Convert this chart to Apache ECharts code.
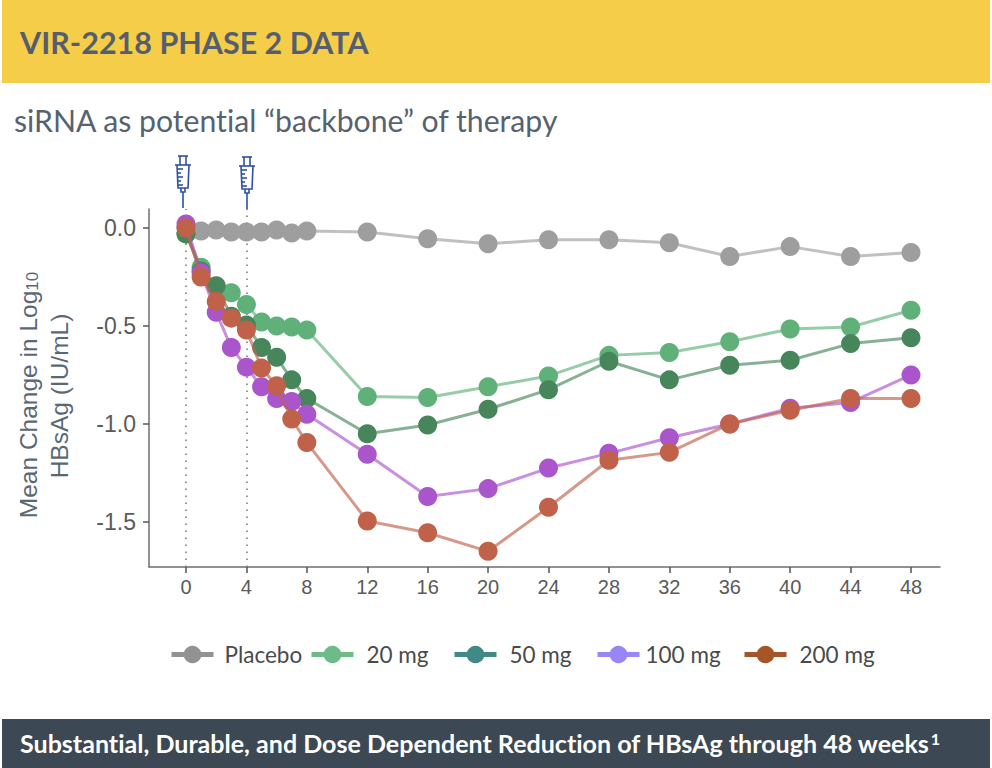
<!DOCTYPE html>
<html><head><meta charset="utf-8">
<style>html,body{margin:0;padding:0;background:#fff}#c{width:992px;height:768px}#c text{font-variant-ligatures:none}</style>
<script src="https://cdn.jsdelivr.net/npm/echarts@6/dist/echarts.min.js"></script>
</head><body><div id="c"></div>
<script>
const weeks=[0,1,2,3,4,5,6,7,8,12,16,20,24,28,32,36,40,44,48];
const xTicks=[0,4,8,12,16,20,24,28,32,36,40,44,48];
const yTicks=[0,-0.5,-1,-1.5];
const placebo=[0,-.015,-.01,-.02,-.02,-.02,-.01,-.025,-.015,-.02,-.055,-.08,-.06,-.06,-.075,-.145,-.095,-.145,-.125];
const mg20=[-.03,-.2,-.3,-.33,-.39,-.48,-.5,-.505,-.52,-.86,-.865,-.81,-.755,-.65,-.635,-.58,-.515,-.505,-.42];
const mg50=[-.03,-.22,-.295,-.45,-.495,-.61,-.66,-.775,-.87,-1.05,-1.005,-.925,-.825,-.68,-.775,-.7,-.675,-.59,-.56];
const mg100=[.02,-.23,-.43,-.61,-.71,-.81,-.87,-.885,-.95,-1.155,-1.37,-1.33,-1.225,-1.15,-1.07,-1.0,-.92,-.89,-.75];
const mg200=[0,-.25,-.375,-.46,-.52,-.715,-.805,-.975,-1.095,-1.495,-1.555,-1.65,-1.425,-1.185,-1.145,-1.0,-.93,-.87,-.87];
const names=['Placebo','20 mg','50 mg','100 mg','200 mg'];
const colors=['#9e9e9e','#5fb179','#47865b','#aa55cc','#c0624a'];
const legendColors=['#929292','#6dbb87','#3f8a87','#9a85f5','#a55526'];
const values=[placebo,mg20,mg50,mg100,mg200];
const legendLeft=[169,309,452,595,742];
const legendPad=[6,8,8,1,8];
const syringeParts=[
 [[-5,-38],[5,-38]],[[-3,-38],[-3,-29]],[[3,-38],[3,-29]],[[-8,-29],[8,-29]],
 [[-6,-29],[-5,-6],[5,-6],[6,-29]],
 [[-6,-25],[0,-25]],[[-6,-21],[-2,-21]],[[-6,-17],[0,-17]],[[-6,-13],[-2,-13]],[[-5,-9],[0,-9]],
 [[-2,-6],[-2,-2],[2,-2],[2,-6]],[[0,-2],[0,14]]
];
const chart=echarts.init(document.getElementById('c'),null,{renderer:'svg'});
const syringe=(x,y)=>({type:'group',x:x,y:y,children:syringeParts.map(p=>({type:'polyline',shape:{points:p},style:{fill:'none',stroke:'#2f50a6',lineWidth:1.6}}))});
chart.setOption({
 animation:false,
 backgroundColor:'#fff',
 title:[
  {text:'VIR-2218 PHASE 2 DATA',left:20,top:26,padding:0,textStyle:{fontFamily:'Lato',fontSize:30.5,fontWeight:'bold',color:'#555e6e'}},
  {text:'siRNA as potential “backbone” of therapy',left:14,top:105,padding:0,textStyle:{fontFamily:'Lato',fontSize:30.2,fontWeight:'normal',color:'#57626f'}}
 ],
 grid:{left:149,right:52,top:209,bottom:201,containLabel:false},
 xAxis:{type:'value',min:-2.45,max:49.92,
  axisLine:{onZero:false,lineStyle:{color:'#6e6e6e',width:1.5}},
  axisTick:{show:true,length:6,customValues:xTicks,lineStyle:{color:'#555',width:1.5}},
  axisLabel:{customValues:xTicks,fontFamily:'Liberation Sans',fontSize:20,color:'#5a5a5a',margin:10},
  splitLine:{show:false}},
 yAxis:{type:'value',min:-1.73,max:0.097,
  axisLine:{show:true,onZero:false,lineStyle:{color:'#6e6e6e',width:1.5}},
  axisTick:{show:true,length:6,customValues:yTicks,lineStyle:{color:'#555',width:1.5}},
  axisLabel:{customValues:yTicks,formatter:v=>v.toFixed(1),fontFamily:'Liberation Sans',fontSize:23,color:'#5a5a5a',margin:13},
  splitLine:{show:false}},
 legend:names.map((n,i)=>({show:true,left:legendLeft[i],top:643,orient:'horizontal',padding:0,
  itemWidth:42,itemHeight:22,
  data:[{name:n,itemStyle:{color:legendColors[i],borderWidth:0},lineStyle:{color:legendColors[i],width:5,opacity:1}}],
  textStyle:{fontFamily:'Lato',fontSize:22.5,color:'#4a4a4a',padding:[0,0,0,legendPad[i]]}})),
 series:names.map((n,i)=>({
  name:n,type:'line',z:2+i,
  data:weeks.map((w,j)=>[w,values[i][j]]),
  symbol:'circle',symbolSize:19,showSymbol:true,
  itemStyle:{color:colors[i],opacity:1},
  lineStyle:{color:colors[i],width:3,opacity:.65},
  ...(i===0?{markLine:{silent:true,symbol:'none',label:{show:false},z:1,
    lineStyle:{color:'#8a8a8a',width:1.8,type:[1.5,5.5],opacity:1},
    data:[{xAxis:0},{xAxis:4}]}}:{})
 })),
 graphic:[
  {type:'rect',z:-1,shape:{x:2,y:0,width:988,height:83},style:{fill:'#f6cd48'}},
  {type:'rect',z:-1,shape:{x:2,y:719,width:988,height:49},style:{fill:'#3c4853'}},
  {type:'text',x:20,y:743,style:{rich:{a:{fontFamily:'Lato',fontSize:25.05,fontWeight:'bold',fill:'#fff'},s:{fontFamily:'Lato',fontSize:16,fontWeight:'bold',fill:'#fff',verticalAlign:'top',padding:[0,0,8,0]}},text:'{a|Substantial, Durable, and Dose Dependent Reduction of HBsAg through 48 weeks}{s|1}',verticalAlign:'middle',align:'left'}},
  {type:'text',x:28,y:395,rotation:Math.PI/2,style:{rich:{a:{fontFamily:'Liberation Sans',fontSize:24.5,fill:'#5a6876'},s:{fontFamily:'Liberation Sans',fontSize:17,fill:'#5a6876',padding:[8,0,0,0]}},text:'{a|Mean Change in Log}{s|10}',align:'center',verticalAlign:'middle'}},
  {type:'text',x:59,y:396,rotation:Math.PI/2,style:{text:'HBsAg (IU/mL)',fontFamily:'Liberation Sans',fontSize:24.5,fill:'#5a6876',align:'center',verticalAlign:'middle'}},
  syringe(183,194),syringe(247,195)
 ]
});
</script></body></html>
